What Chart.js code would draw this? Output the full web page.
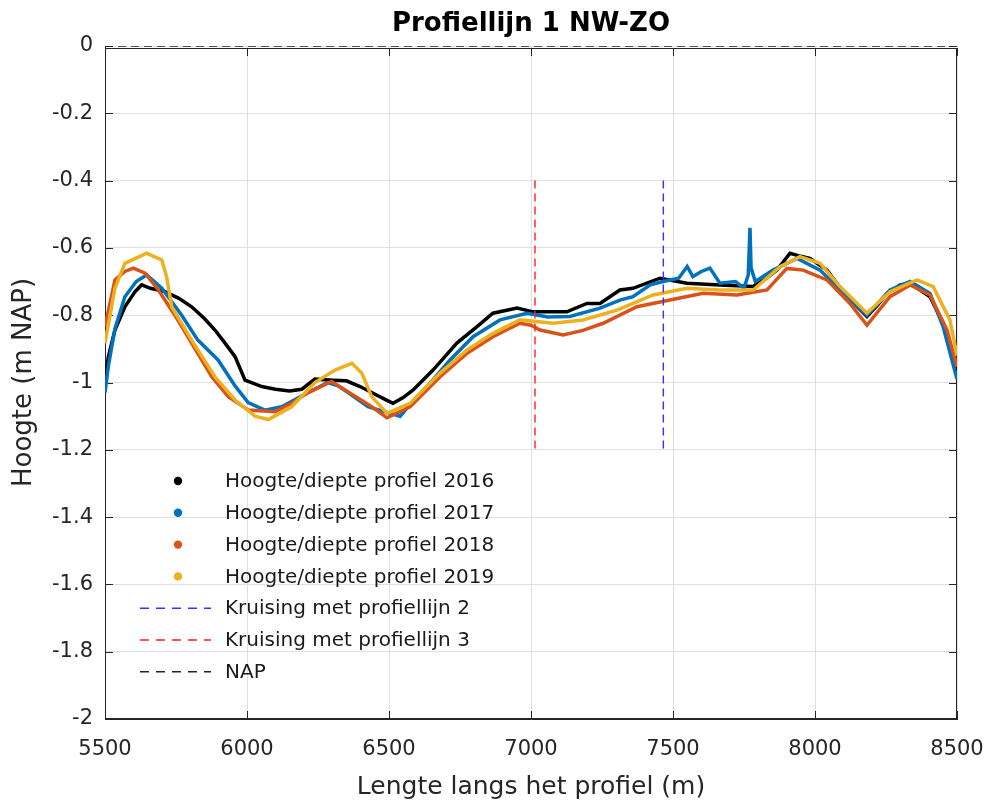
<!DOCTYPE html>
<html>
<head>
<meta charset="utf-8">
<script src="https://cdn.jsdelivr.net/npm/chart.js@4.4.1/dist/chart.umd.min.js"></script>
<style>
  html, body { margin: 0; padding: 0; background: #fff; }
  #wrap { width: 990px; height: 800px; }
</style>
</head>
<body>
<div id="wrap"><canvas id="profiel" width="990" height="800"></canvas></div>
<script>
// afstand langs het profiel (m) en hoogte (m NAP)
const afstand2016 = [5500, 5512, 5535, 5570, 5606, 5629, 5660, 5711, 5760, 5805, 5850, 5887, 5920, 5958, 5993, 6052, 6100, 6150, 6193, 6239, 6303, 6350, 6398, 6444, 6486, 6514, 6550, 6585, 6655, 6700, 6739, 6810, 6866, 6951, 7007, 7078, 7126, 7197, 7243, 7313, 7359, 7454, 7549, 7665, 7782, 7830, 7866, 7912, 7950, 7982, 8042, 8113, 8183, 8220, 8254, 8300, 8335, 8405, 8451, 8486, 8500];
const hoogte2016 = [-0.99, -0.923, -0.844, -0.775, -0.73, -0.71, -0.72, -0.73, -0.75, -0.775, -0.81, -0.844, -0.88, -0.923, -0.993, -1.012, -1.02, -1.025, -1.02, -0.99, -0.993, -0.995, -1.012, -1.032, -1.05, -1.062, -1.045, -1.022, -0.963, -0.92, -0.883, -0.834, -0.794, -0.779, -0.79, -0.79, -0.79, -0.765, -0.765, -0.725, -0.72, -0.69, -0.705, -0.71, -0.715, -0.69, -0.666, -0.616, -0.625, -0.631, -0.666, -0.745, -0.804, -0.77, -0.735, -0.71, -0.705, -0.745, -0.824, -0.933, -0.98];

const afstand2017 = [5500, 5512, 5535, 5570, 5610, 5647, 5700, 5770, 5827, 5898, 5958, 6004, 6063, 6122, 6215, 6285, 6320, 6356, 6426, 6496, 6539, 6580, 6634, 6715, 6796, 6891, 6986, 7060, 7137, 7243, 7313, 7359, 7420, 7465, 7520, 7550, 7570, 7600, 7630, 7665, 7720, 7750, 7765, 7771, 7775, 7790, 7852, 7937, 8018, 8099, 8183, 8264, 8335, 8405, 8451, 8500];
const hoogte2017 = [-1.03, -0.95, -0.84, -0.745, -0.70, -0.68, -0.72, -0.80, -0.874, -0.933, -1.01, -1.06, -1.082, -1.072, -1.03, -1.0, -1.01, -1.03, -1.072, -1.09, -1.10, -1.06, -1.012, -0.933, -0.864, -0.814, -0.794, -0.805, -0.804, -0.779, -0.755, -0.745, -0.71, -0.70, -0.69, -0.655, -0.685, -0.67, -0.66, -0.705, -0.70, -0.72, -0.68, -0.54, -0.66, -0.70, -0.666, -0.631, -0.666, -0.735, -0.80, -0.725, -0.70, -0.735, -0.834, -0.99];

const afstand2018 = [5500, 5535, 5570, 5600, 5641, 5688, 5746, 5805, 5876, 5934, 6005, 6099, 6160, 6215, 6298, 6369, 6439, 6493, 6574, 6680, 6775, 6866, 6961, 7000, 7032, 7113, 7183, 7254, 7373, 7489, 7606, 7725, 7831, 7901, 7958, 8042, 8123, 8183, 8264, 8335, 8405, 8465, 8500];
const hoogte2018 = [-0.834, -0.695, -0.67, -0.66, -0.675, -0.725, -0.80, -0.883, -0.983, -1.042, -1.082, -1.087, -1.06, -1.03, -0.997, -1.035, -1.072, -1.105, -1.072, -0.983, -0.913, -0.864, -0.824, -0.83, -0.844, -0.859, -0.845, -0.824, -0.775, -0.755, -0.735, -0.74, -0.725, -0.661, -0.666, -0.695, -0.765, -0.83, -0.745, -0.71, -0.74, -0.844, -0.953];

const afstand2019 = [5500, 5535, 5570, 5647, 5700, 5717, 5735, 5805, 5887, 5958, 6028, 6075, 6157, 6239, 6310, 6369, 6404, 6439, 6493, 6574, 6680, 6775, 6866, 6961, 7078, 7183, 7303, 7430, 7549, 7665, 7782, 7877, 7947, 8018, 8088, 8183, 8264, 8359, 8416, 8475, 8500];
const hoogte2019 = [-0.883, -0.72, -0.646, -0.616, -0.636, -0.686, -0.775, -0.874, -0.983, -1.052, -1.10, -1.11, -1.072, -1.0, -0.963, -0.943, -0.972, -1.042, -1.092, -1.062, -0.972, -0.903, -0.854, -0.814, -0.824, -0.814, -0.785, -0.74, -0.72, -0.725, -0.725, -0.656, -0.626, -0.646, -0.715, -0.794, -0.73, -0.695, -0.715, -0.814, -0.92];

// kruisingen met andere profiellijnen en NAP-niveau
const kruising2X = [7466, 7466];
const kruising2Y = [-0.4, -1.2];
const kruising3X = [7014, 7014];
const kruising3Y = [-0.4, -1.2];
const napX = [5500, 8500];
const napY = [0, 0];

const xTicks = [5500, 6000, 6500, 7000, 7500, 8000, 8500];
const yTicks = [0, -0.2, -0.4, -0.6, -0.8, -1, -1.2, -1.4, -1.6, -1.8, -2];

const FONT = '"DejaVu Sans", "Liberation Sans", Arial, sans-serif';
const AXIS_COLOR = '#262626';
const GRID_COLOR = '#e0e0e0';

const toPoints = (xs, ys) => xs.map((x, i) => ({ x, y: ys[i] }));

const profileSet = (label, xs, ys, color, order) => ({
  label,
  data: toPoints(xs, ys),
  borderColor: color,
  backgroundColor: color,
  borderWidth: 3.5,
  pointRadius: 0,
  showLine: true,
  order,
});

const dashedSet = (label, xs, ys, color) => ({
  label,
  data: toPoints(xs, ys),
  borderColor: color,
  backgroundColor: color,
  borderWidth: 1.4,
  borderDash: [8, 5],
  pointRadius: 0,
  showLine: true,
  order: 0,
});

// box rond de assen met naar binnen wijzende tickmarks (MATLAB-stijl)
const axesBox = {
  id: 'axesBox',
  beforeDatasetsDraw(chart) {
    const { ctx, chartArea: a, scales } = chart;
    const len = 8;
    ctx.save();
    ctx.strokeStyle = AXIS_COLOR;
    ctx.lineWidth = 1;
    ctx.strokeRect(a.left + 0.5, a.top + 2.5, a.right - a.left - 1, a.bottom - a.top - 3);
    ctx.beginPath();
    xTicks.forEach((t) => {
      const px = Math.round(scales.x.getPixelForValue(t)) + 0.5;
      ctx.moveTo(px, a.bottom); ctx.lineTo(px, a.bottom - len);
      ctx.moveTo(px, a.top + 2); ctx.lineTo(px, a.top + 2 + len);
    });
    yTicks.forEach((t) => {
      const py = Math.round(scales.y.getPixelForValue(t)) + 0.5;
      ctx.moveTo(a.left, py); ctx.lineTo(a.left + len, py);
      ctx.moveTo(a.right, py); ctx.lineTo(a.right - len, py);
    });
    ctx.stroke();
    ctx.restore();
  },
};

// legenda linksonder in het assenvlak, zonder kader
const profileLegend = {
  id: 'profileLegend',
  afterDatasetsDraw(chart) {
    const { ctx, chartArea: a } = chart;
    const top = 481;
    const step = 31.8;
    ctx.save();
    ctx.font = `20px ${FONT}`;
    ctx.textBaseline = 'middle';
    ctx.textAlign = 'left';
    chart.data.datasets.forEach((ds, i) => {
      const y = top + i * step;
      if (ds.borderDash) {
        ctx.strokeStyle = ds.borderColor;
        ctx.lineWidth = 1.4;
        ctx.setLineDash([9, 7]);
        ctx.beginPath();
        ctx.moveTo(a.left + 35, y);
        ctx.lineTo(a.left + 106, y);
        ctx.stroke();
        ctx.setLineDash([]);
      } else {
        ctx.fillStyle = ds.backgroundColor;
        ctx.beginPath();
        ctx.arc(a.left + 73, y, 4.2, 0, Math.PI * 2);
        ctx.fill();
      }
      ctx.fillStyle = '#1a1a1a';
      ctx.fillText(ds.label, a.left + 120, y + 1);
    });
    ctx.restore();
  },
};

const ctx = document.getElementById('profiel').getContext('2d');
new Chart(ctx, {
  type: 'scatter',
  data: {
    datasets: [
      profileSet('Hoogte/diepte profiel 2016', afstand2016, hoogte2016, '#000000', 5),
      profileSet('Hoogte/diepte profiel 2017', afstand2017, hoogte2017, '#0072BD', 4),
      profileSet('Hoogte/diepte profiel 2018', afstand2018, hoogte2018, '#D95319', 3),
      profileSet('Hoogte/diepte profiel 2019', afstand2019, hoogte2019, '#EDB120', 2),
      dashedSet('Kruising met profiellijn 2', kruising2X, kruising2Y, '#3333ff'),
      dashedSet('Kruising met profiellijn 3', kruising3X, kruising3Y, '#ff2020'),
      dashedSet('NAP', napX, napY, '#222222'),
    ],
  },
  options: {
    responsive: false,
    animation: false,
    layout: { padding: { left: 0, right: 33, top: 0, bottom: 0 } },
    plugins: {
      legend: { display: false },
      tooltip: { enabled: false },
      title: {
        display: true,
        fullSize: false,
        text: 'Profiellijn 1 NW-ZO',
        color: '#000',
        font: { family: FONT, size: 26, weight: 'bold' },
        padding: { top: 9, bottom: 5.8 },
      },
    },
    scales: {
      x: {
        type: 'linear',
        min: 5500,
        max: 8500,
        afterBuildTicks: (s) => { s.ticks = xTicks.map((value) => ({ value })); },
        ticks: {
          color: AXIS_COLOR,
          font: { family: FONT, size: 21 },
          padding: 18,
          maxRotation: 0,
          callback: (v) => String(v),
        },
        grid: { color: GRID_COLOR, drawTicks: false },
        border: { display: true, color: AXIS_COLOR },
        title: {
          display: true,
          text: 'Lengte langs het profiel (m)',
          color: AXIS_COLOR,
          font: { family: FONT, size: 25, lineHeight: 1 },
          padding: { top: 0, bottom: 0 },
        },
        afterFit: (s) => { s.height = 81; s.paddingLeft = 0; s.paddingRight = 0; },
      },
      y: {
        type: 'linear',
        min: -2,
        max: 0,
        afterBuildTicks: (s) => { s.ticks = yTicks.map((value) => ({ value })); },
        ticks: {
          color: AXIS_COLOR,
          font: { family: FONT, size: 21 },
          padding: 12,
          callback: (v) => String(Number(v.toFixed(1))),
        },
        grid: { color: GRID_COLOR, drawTicks: false },
        border: { display: true, color: AXIS_COLOR },
        title: {
          display: true,
          text: 'Hoogte (m NAP)',
          color: AXIS_COLOR,
          font: { family: FONT, size: 26, lineHeight: 1.2 },
          padding: { top: 9, bottom: 0 },
        },
        afterFit: (s) => { s.width = 105; s.paddingTop = 0; s.paddingBottom = 0; },
      },
    },
  },
  plugins: [axesBox, profileLegend],
});
</script>
</body>
</html>
